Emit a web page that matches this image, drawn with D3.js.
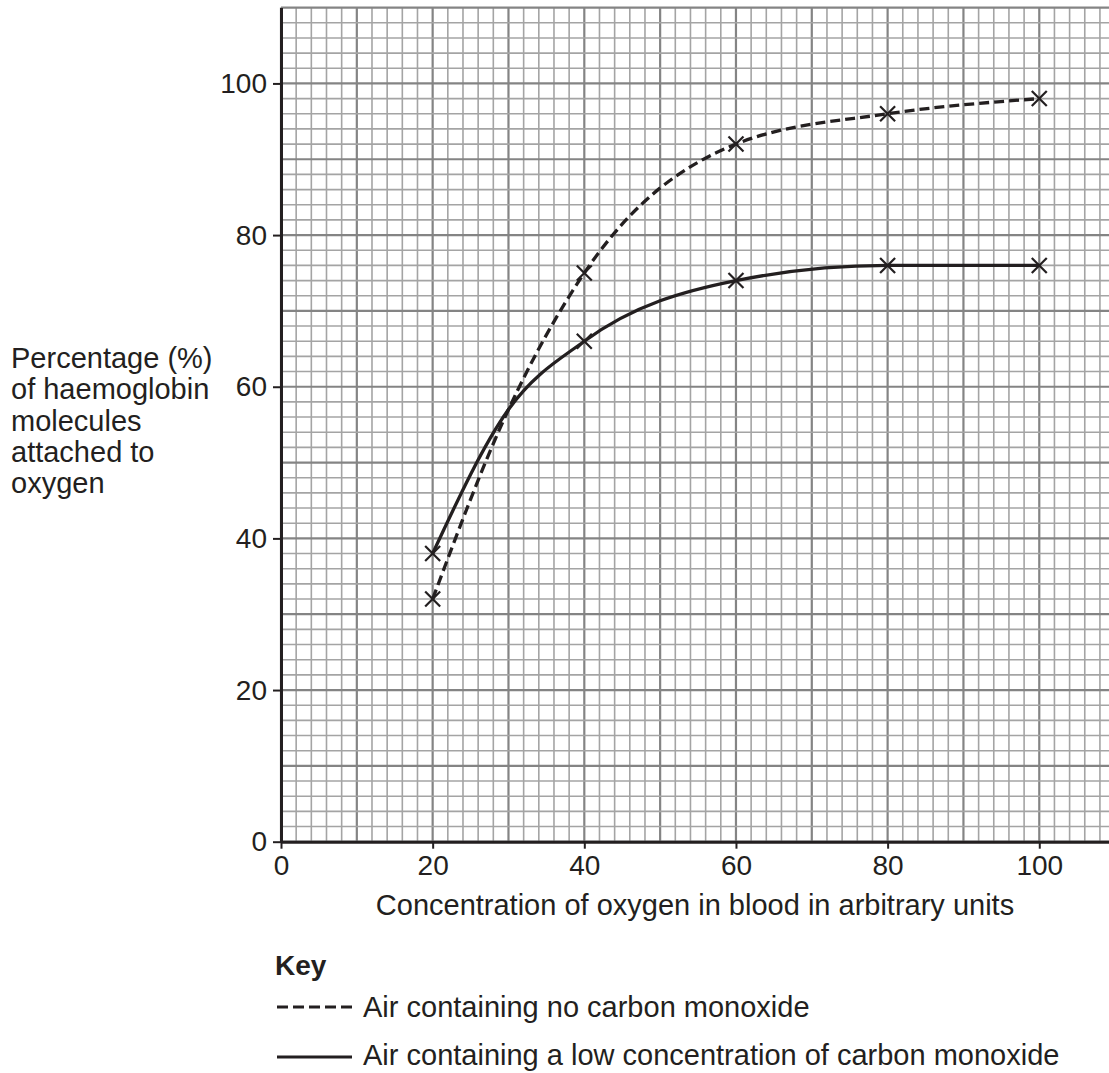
<!DOCTYPE html>
<html>
<head>
<meta charset="utf-8">
<script src="https://cdn.jsdelivr.net/npm/d3@7"></script>
<style>
  body { margin: 0; background: #fff; }
  svg { display: block; font-family: "Liberation Sans", Arial, sans-serif; }
</style>
</head>
<body>
<div id="chart"></div>
<script>
// measured points (the crosses)
const oxygen = [20, 40, 60, 80, 100];
const noCO = [32, 75, 92, 96, 98];
const lowCO = [38, 66, 74, 76, 76];

// where the drawn curves pass (incl. the crossing at 30)
const curveX = [20, 30, 40, 60, 80, 100];
const noCOCurve = [32, 57, 75, 92, 96, 98];
const lowCOCurve = [38, 57, 66, 74, 76, 76];

const xTicks = [0, 20, 40, 60, 80, 100];
const yTicks = [0, 20, 40, 60, 80, 100];

const yLabel = ["Percentage (%)", "of haemoglobin", "molecules", "attached to", "oxygen"];
const xLabel = "Concentration of oxygen in blood in arbitrary units";
const keyLabels = ["Air containing no carbon monoxide", "Air containing a low concentration of carbon monoxide"];

const width = 1109, height = 1073;
const ink = "#231f20";

const x = d3.scaleLinear().domain([0, 110]).range([281, 1115.1]);
const y = d3.scaleLinear().domain([0, 110]).range([841.7, 7.6]);

const svg = d3.select("#chart").append("svg")
  .attr("width", width)
  .attr("height", height);

// graph paper
const grid = svg.append("g");
const steps = d3.range(0, 110.01, 2);
grid.selectAll(".vx").data(steps).enter().append("line")
  .attr("x1", d => x(d)).attr("x2", d => x(d))
  .attr("y1", y(0)).attr("y2", y(110))
  .attr("stroke", d => d % 10 === 0 ? "#848484" : "#a4a4a4")
  .attr("stroke-width", d => d % 10 === 0 ? 2.2 : 1.6);
grid.selectAll(".hy").data(steps).enter().append("line")
  .attr("y1", d => y(d)).attr("y2", d => y(d))
  .attr("x1", x(0)).attr("x2", width)
  .attr("stroke", d => d % 10 === 0 ? "#848484" : "#a4a4a4")
  .attr("stroke-width", d => d % 10 === 0 ? 2.2 : 1.6);

// axes
const xAxis = svg.append("g")
  .attr("transform", `translate(0,${y(0)})`)
  .call(d3.axisBottom(x).tickValues(xTicks).tickSize(7).tickSizeOuter(0).tickPadding(5));
const yAxis = svg.append("g")
  .attr("transform", `translate(${x(0)},0)`)
  .call(d3.axisLeft(y).tickValues(yTicks).tickSize(8).tickSizeOuter(0).tickPadding(6));

[xAxis, yAxis].forEach(g => {
  g.select(".domain").attr("stroke", ink).attr("stroke-width", 3);
  g.selectAll(".tick line").attr("stroke", ink).attr("stroke-width", 2);
  g.selectAll(".tick text").attr("fill", ink).attr("font-size", "28px")
    .attr("font-family", "'Liberation Sans', Arial, sans-serif");
});
xAxis.selectAll(".tick text").attr("dy", "0.75em");

// axis titles
svg.append("text")
  .attr("x", (x(0) + width) / 2)
  .attr("y", 915)
  .attr("text-anchor", "middle")
  .attr("font-size", "29px")
  .attr("fill", ink)
  .text(xLabel);

svg.append("text")
  .attr("font-size", "29px")
  .attr("fill", ink)
  .selectAll("tspan")
  .data(yLabel)
  .enter().append("tspan")
  .attr("x", 11)
  .attr("y", (d, i) => 368 + i * 31.3)
  .text(d => d);

// curves
const line = d3.line()
  .x(d => x(d[0]))
  .y(d => y(d[1]))
  .curve(d3.curveMonotoneX);

svg.append("path")
  .datum(d3.zip(curveX, noCOCurve))
  .attr("d", line)
  .attr("fill", "none")
  .attr("stroke", ink)
  .attr("stroke-width", 3.3)
  .attr("stroke-dasharray", "10,5");

svg.append("path")
  .datum(d3.zip(curveX, lowCOCurve))
  .attr("d", line)
  .attr("fill", "none")
  .attr("stroke", ink)
  .attr("stroke-width", 3.3);

// crosses
const r = 7.5;
[noCO, lowCO].forEach(series => {
  const g = svg.append("g");
  const pts = d3.zip(oxygen, series);
  g.selectAll(".a").data(pts).enter().append("line")
    .attr("x1", d => x(d[0]) - r).attr("y1", d => y(d[1]) - r)
    .attr("x2", d => x(d[0]) + r).attr("y2", d => y(d[1]) + r)
    .attr("stroke", ink).attr("stroke-width", 2.2);
  g.selectAll(".b").data(pts).enter().append("line")
    .attr("x1", d => x(d[0]) - r).attr("y1", d => y(d[1]) + r)
    .attr("x2", d => x(d[0]) + r).attr("y2", d => y(d[1]) - r)
    .attr("stroke", ink).attr("stroke-width", 2.2);
});

// key
svg.append("text")
  .attr("x", 275).attr("y", 975)
  .attr("font-size", "28px").attr("font-weight", "bold")
  .attr("fill", ink)
  .text("Key");

const key = svg.append("g");
key.selectAll("line").data(keyLabels).enter().append("line")
  .attr("x1", 277).attr("x2", 352)
  .attr("y1", (d, i) => 1007 + i * 50).attr("y2", (d, i) => 1007 + i * 50)
  .attr("stroke", ink).attr("stroke-width", 3)
  .attr("stroke-dasharray", (d, i) => i === 0 ? "11,5" : null);
key.selectAll("text").data(keyLabels).enter().append("text")
  .attr("x", 363)
  .attr("y", (d, i) => 1017 + i * 48)
  .attr("font-size", "29px")
  .attr("fill", ink)
  .text(d => d);
</script>
</body>
</html>
